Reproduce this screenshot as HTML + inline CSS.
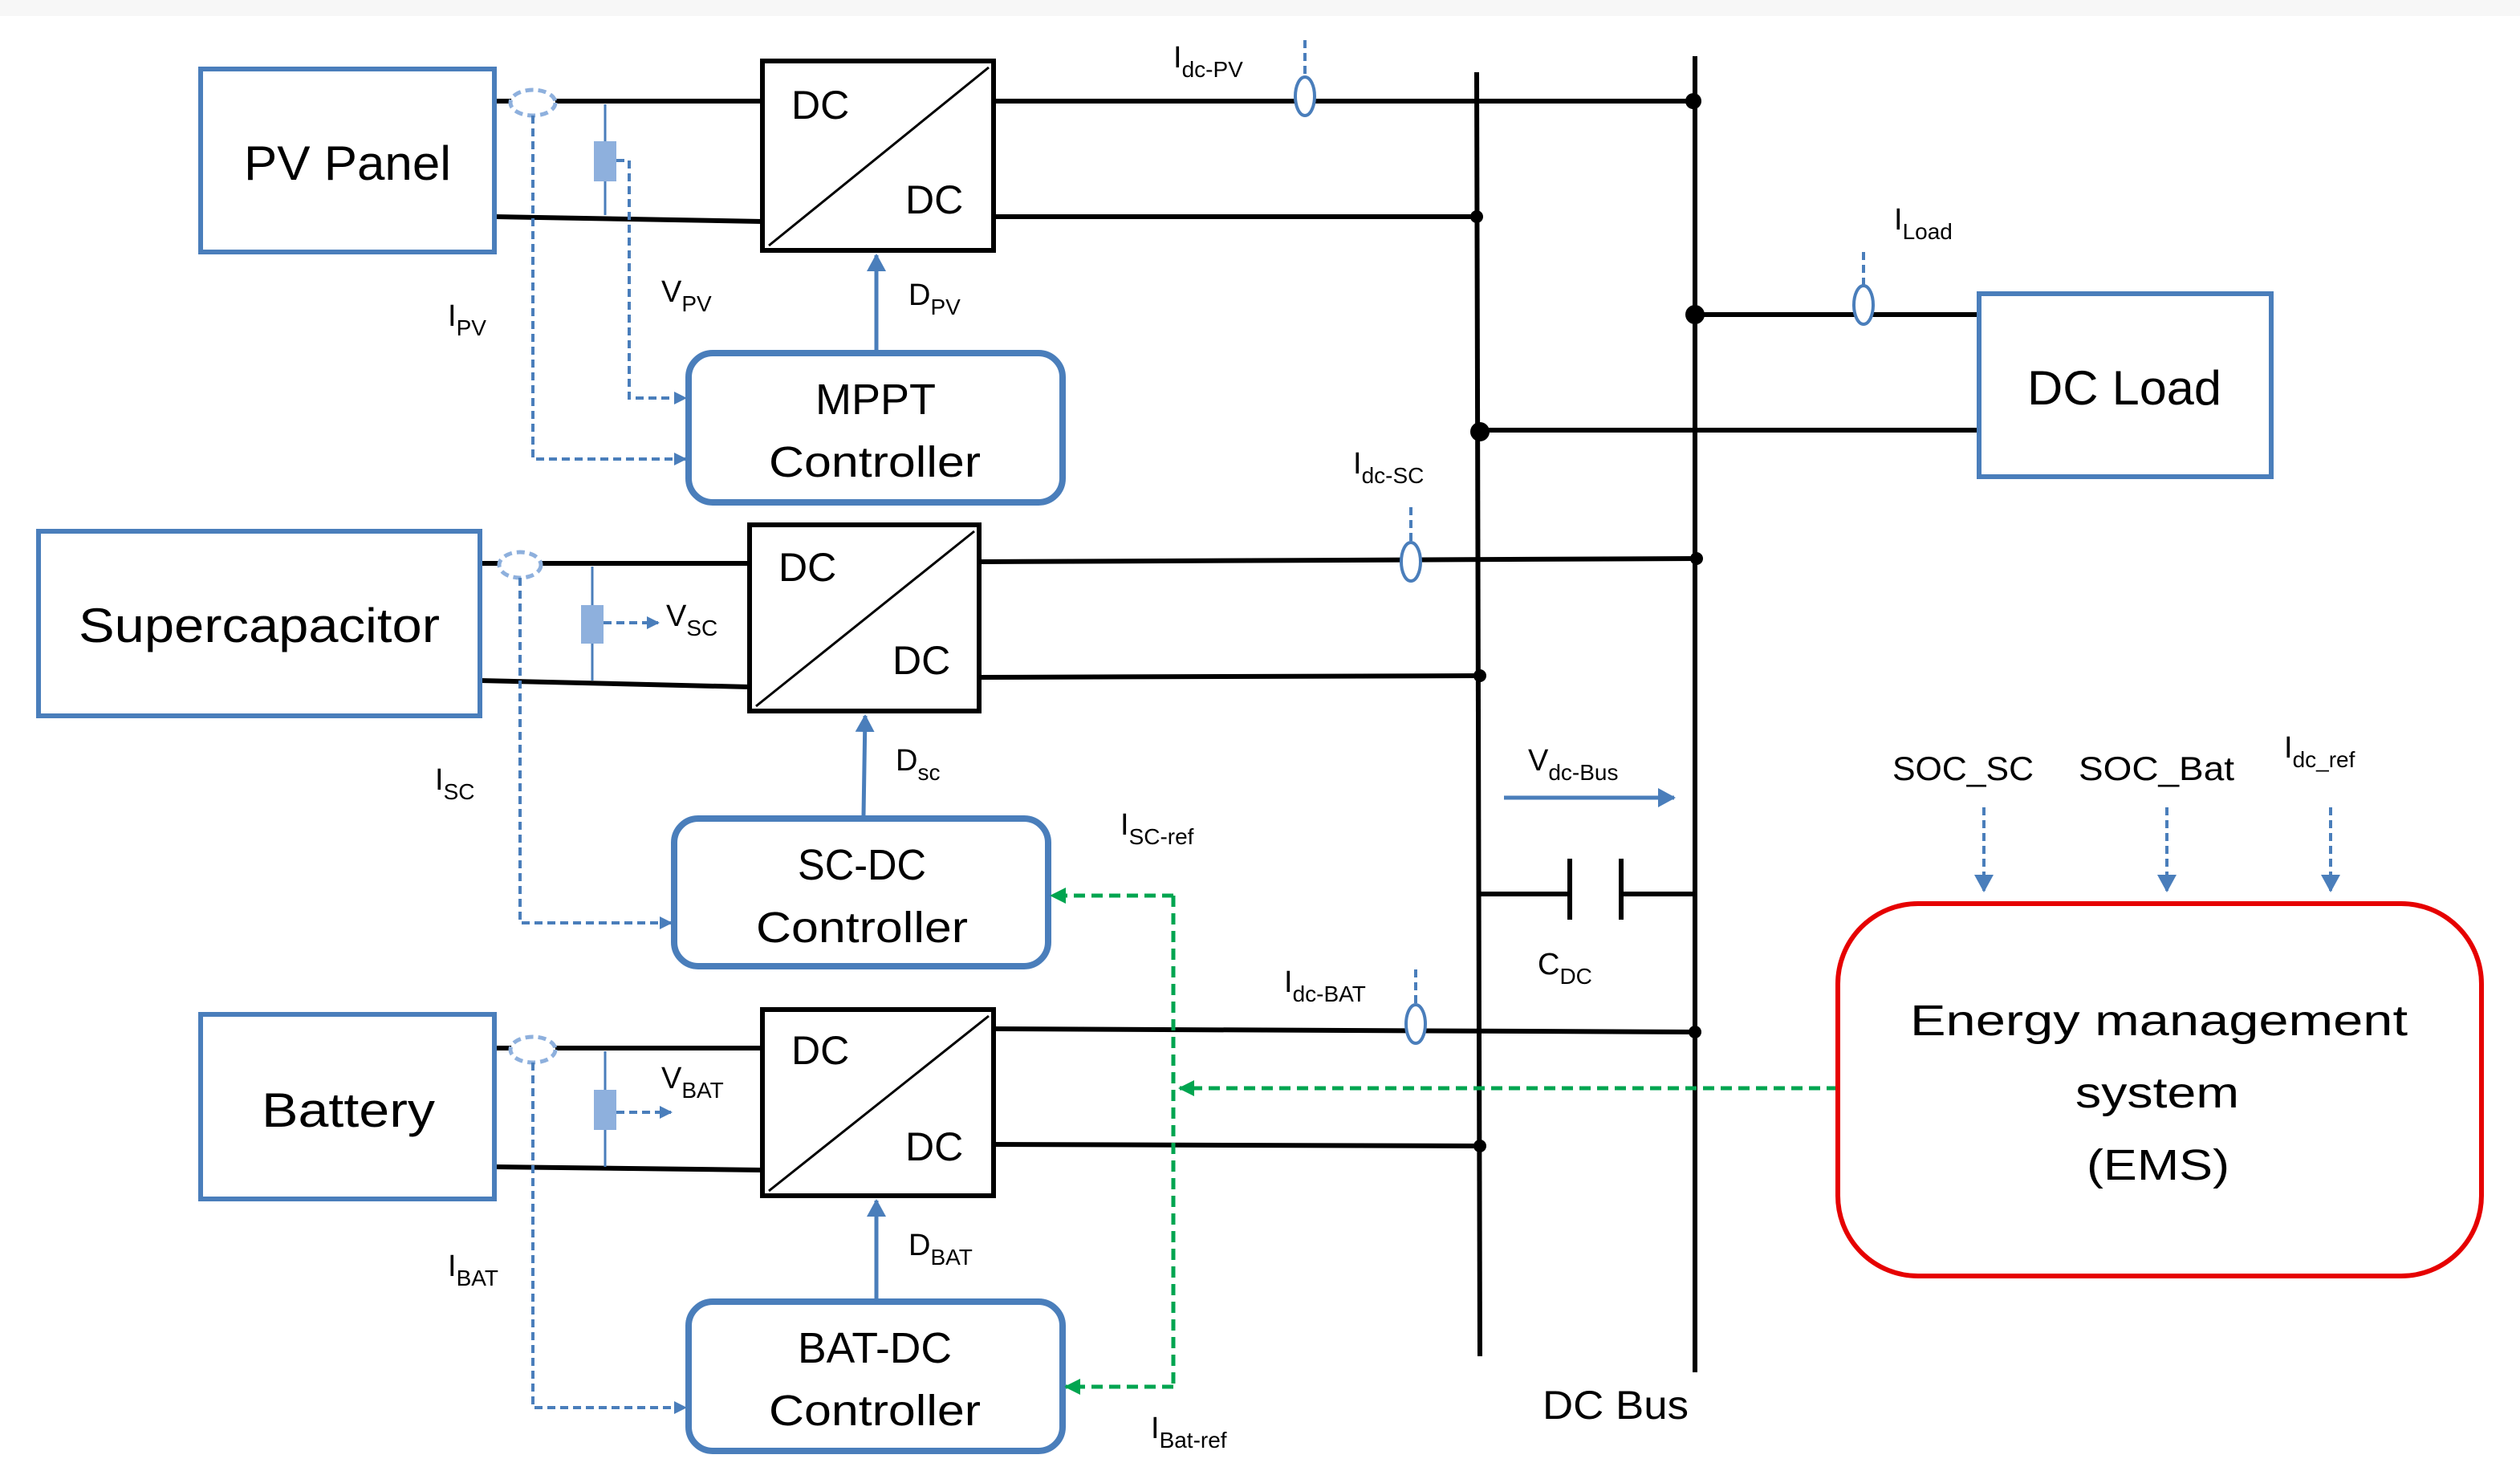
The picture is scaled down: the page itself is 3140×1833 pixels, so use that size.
<!DOCTYPE html>
<html><head><meta charset="utf-8"><style>
html,body{margin:0;padding:0;background:#fff}
svg{display:block}
text{font-family:"Liberation Sans",sans-serif;fill:#000}
</style></head><body>
<svg width="3140" height="1833" viewBox="0 0 1570 916.5" xmlns="http://www.w3.org/2000/svg">
<defs>
<marker id="ab" markerWidth="8" markerHeight="8" refX="7" refY="4" orient="auto" markerUnits="userSpaceOnUse"><path d="M0,0 L8,4 L0,8z" fill="#4a7ebb"/></marker>
<marker id="ab2" markerWidth="12" markerHeight="12" refX="10" refY="6" orient="auto" markerUnits="userSpaceOnUse"><path d="M0,0 L11,6 L0,12z" fill="#4a7ebb"/></marker>
<marker id="ag" markerWidth="10" markerHeight="10" refX="9" refY="5" orient="auto" markerUnits="userSpaceOnUse"><path d="M0,0 L10,5 L0,10z" fill="#00a550"/></marker>
</defs>
<rect x="0" y="0" width="1570" height="10" fill="#f7f7f7"/>
<g fill="none" stroke="#000" stroke-width="3">
<line x1="920" y1="45" x2="922" y2="845"/>
<line x1="1056" y1="35" x2="1056" y2="855"/>
<line x1="308" y1="63" x2="475" y2="63"/>
<line x1="308" y1="135" x2="475" y2="138"/>
<line x1="619" y1="63" x2="1055" y2="63"/>
<line x1="619" y1="135" x2="920" y2="135"/>
<line x1="299" y1="351" x2="467" y2="351"/>
<line x1="299" y1="424" x2="467" y2="428"/>
<line x1="610" y1="350" x2="1057" y2="348"/>
<line x1="610" y1="422" x2="922" y2="421"/>
<line x1="308" y1="653" x2="475" y2="653"/>
<line x1="308" y1="727" x2="475" y2="729"/>
<line x1="619" y1="641" x2="1056" y2="643"/>
<line x1="619" y1="713" x2="922" y2="714"/>
<line x1="1056" y1="196" x2="1233" y2="196"/>
<line x1="922" y1="268" x2="1233" y2="268"/>
<line x1="922" y1="557" x2="978" y2="557"/>
<line x1="1010" y1="557" x2="1056" y2="557"/>
<line x1="978" y1="535" x2="978" y2="573"/>
<line x1="1010" y1="535" x2="1010" y2="573"/>
<rect x="475" y="38" width="144" height="118"/>
<rect x="467" y="327" width="143" height="116"/>
<rect x="475" y="629" width="144" height="116"/>
</g>
<g stroke="#000" stroke-width="1.5">
<line x1="479" y1="153" x2="616" y2="42"/>
<line x1="471" y1="440" x2="607" y2="331"/>
<line x1="479" y1="742" x2="616" y2="633"/>
</g>
<g fill="#000">
<circle cx="1055" cy="63" r="5"/><circle cx="920" cy="135" r="4"/>
<circle cx="1057" cy="348" r="4"/><circle cx="922" cy="421" r="4"/>
<circle cx="1056" cy="643" r="4"/><circle cx="922" cy="714" r="4"/>
<circle cx="1056" cy="196" r="6"/><circle cx="922" cy="269" r="6"/>
</g>
<g fill="none" stroke="#4a7ebb" stroke-width="3">
<rect x="125" y="43" width="183" height="114"/>
<rect x="24" y="331" width="275" height="115"/>
<rect x="125" y="632" width="183" height="115"/>
<rect x="1233" y="183" width="182" height="114"/>
<rect x="429" y="220" width="233" height="93" rx="15" stroke-width="4"/>
<rect x="420" y="510" width="233" height="92" rx="15" stroke-width="4"/>
<rect x="429" y="811" width="233" height="93" rx="15" stroke-width="4"/>
</g>
<g fill="#fff" stroke="#8eb0dd" stroke-width="2.5" stroke-dasharray="5,3">
<ellipse cx="332" cy="64" rx="14" ry="8"/>
<ellipse cx="324" cy="352" rx="13" ry="8"/>
<ellipse cx="332" cy="654" rx="14" ry="8"/>
</g>
<g stroke="#4a7ebb" stroke-width="1.5">
<line x1="377" y1="65" x2="377" y2="134"/>
<line x1="369" y1="353" x2="369" y2="424"/>
<line x1="377" y1="655" x2="377" y2="727"/>
</g>
<g fill="#8eb0dd">
<rect x="370" y="88" width="14" height="25"/>
<rect x="362" y="377" width="14" height="24"/>
<rect x="370" y="679" width="14" height="25"/>
</g>
<g fill="none" stroke="#4a7ebb" stroke-width="2" stroke-dasharray="5,3">
<polyline points="332,72 332,286 427,286" marker-end="url(#ab)"/>
<polyline points="384,100 392,100 392,248 427,248" marker-end="url(#ab)"/>
<polyline points="324,360 324,575 418,575" marker-end="url(#ab)"/>
<polyline points="376,388 410,388" marker-end="url(#ab)"/>
<polyline points="332,662 332,877 427,877" marker-end="url(#ab)"/>
<polyline points="384,693 418,693" marker-end="url(#ab)"/>
<line x1="813" y1="25" x2="813" y2="48"/>
<line x1="1161" y1="157" x2="1161" y2="178"/>
<line x1="879" y1="316" x2="879" y2="338"/>
<line x1="882" y1="604" x2="882" y2="626"/>
<line x1="1236" y1="503" x2="1236" y2="555" marker-end="url(#ab2)"/>
<line x1="1350" y1="503" x2="1350" y2="555" marker-end="url(#ab2)"/>
<line x1="1452" y1="503" x2="1452" y2="555" marker-end="url(#ab2)"/>
</g>
<g fill="#fff" stroke="#4a7ebb" stroke-width="2">
<ellipse cx="813" cy="60" rx="6" ry="12"/>
<ellipse cx="1161" cy="190" rx="6" ry="12"/>
<ellipse cx="879" cy="350" rx="6" ry="12"/>
<ellipse cx="882" cy="638" rx="6" ry="12"/>
</g>
<g stroke="#4a7ebb" stroke-width="2.5" fill="none">
<line x1="546" y1="218" x2="546" y2="159" marker-end="url(#ab2)"/>
<line x1="538" y1="508" x2="539" y2="446" marker-end="url(#ab2)"/>
<line x1="546" y1="809" x2="546" y2="748" marker-end="url(#ab2)"/>
<line x1="937" y1="497" x2="1043" y2="497" marker-end="url(#ab2)"/>
</g>
<g fill="none" stroke="#00a550" stroke-width="2.5" stroke-dasharray="7,4">
<line x1="1145" y1="678" x2="735" y2="678" marker-end="url(#ag)"/>
<polyline points="731,558 731,864"/>
<line x1="731" y1="558" x2="655" y2="558" marker-end="url(#ag)"/>
<line x1="731" y1="864" x2="664" y2="864" marker-end="url(#ag)"/>
</g>
<rect x="1145" y="563" width="401" height="232" rx="50" fill="none" stroke="#e60000" stroke-width="3"/>
<g font-size="30" lengthAdjust="spacingAndGlyphs">
<text x="152" y="112" textLength="129" lengthAdjust="spacingAndGlyphs">PV Panel</text>
<text x="49" y="400" textLength="225" lengthAdjust="spacingAndGlyphs">Supercapacitor</text>
<text x="163" y="702" textLength="108" lengthAdjust="spacingAndGlyphs">Battery</text>
<text x="1263" y="252" textLength="121" lengthAdjust="spacingAndGlyphs">DC Load</text>
</g>
<g font-size="27">
<text x="508" y="258" textLength="75" lengthAdjust="spacingAndGlyphs">MPPT</text>
<text x="479" y="297" textLength="132" lengthAdjust="spacingAndGlyphs">Controller</text>
<text x="497" y="548" textLength="80" lengthAdjust="spacingAndGlyphs">SC-DC</text>
<text x="471" y="587" textLength="132" lengthAdjust="spacingAndGlyphs">Controller</text>
<text x="497" y="849" textLength="96" lengthAdjust="spacingAndGlyphs">BAT-DC</text>
<text x="479" y="888" textLength="132" lengthAdjust="spacingAndGlyphs">Controller</text>
<text x="1190" y="645" textLength="310" lengthAdjust="spacingAndGlyphs">Energy management</text>
<text x="1293" y="690" textLength="102" lengthAdjust="spacingAndGlyphs">system</text>
<text x="1300" y="735" textLength="89" lengthAdjust="spacingAndGlyphs">(EMS)</text>
</g>
<g font-size="25">
<text x="493" y="74">DC</text><text x="564" y="133">DC</text>
<text x="485" y="362">DC</text><text x="556" y="420">DC</text>
<text x="493" y="663">DC</text><text x="564" y="723">DC</text>
<text x="961" y="884" textLength="91" lengthAdjust="spacingAndGlyphs">DC Bus</text>
</g>
<g font-size="19">
<text x="1179" y="486" font-size="21" textLength="88" lengthAdjust="spacingAndGlyphs">SOC_SC</text>
<text x="1295" y="486" font-size="21" textLength="97" lengthAdjust="spacingAndGlyphs">SOC_Bat</text>
<text x="279" y="203">I<tspan font-size="14" dy="6">PV</tspan></text>
<text x="412" y="188">V<tspan font-size="14" dy="6">PV</tspan></text>
<text x="566" y="190">D<tspan font-size="14" dy="6">PV</tspan></text>
<text x="731" y="42">I<tspan font-size="14" dy="6">dc-PV</tspan></text>
<text x="1180" y="143">I<tspan font-size="14" dy="6">Load</tspan></text>
<text x="843" y="295">I<tspan font-size="14" dy="6">dc-SC</tspan></text>
<text x="415" y="390">V<tspan font-size="14" dy="6">SC</tspan></text>
<text x="271" y="492">I<tspan font-size="14" dy="6">SC</tspan></text>
<text x="558" y="480">D<tspan font-size="14" dy="6">sc</tspan></text>
<text x="698" y="520">I<tspan font-size="14" dy="6">SC-ref</tspan></text>
<text x="952" y="480">V<tspan font-size="14" dy="6">dc-Bus</tspan></text>
<text x="1423" y="472">I<tspan font-size="14" dy="6">dc_ref</tspan></text>
<text x="958" y="607">C<tspan font-size="14" dy="6">DC</tspan></text>
<text x="800" y="618">I<tspan font-size="14" dy="6">dc-BAT</tspan></text>
<text x="412" y="678">V<tspan font-size="14" dy="6">BAT</tspan></text>
<text x="279" y="795">I<tspan font-size="14" dy="6">BAT</tspan></text>
<text x="566" y="782">D<tspan font-size="14" dy="6">BAT</tspan></text>
<text x="717" y="896">I<tspan font-size="14" dy="6">Bat-ref</tspan></text>
</g>
</svg>
</body></html>
